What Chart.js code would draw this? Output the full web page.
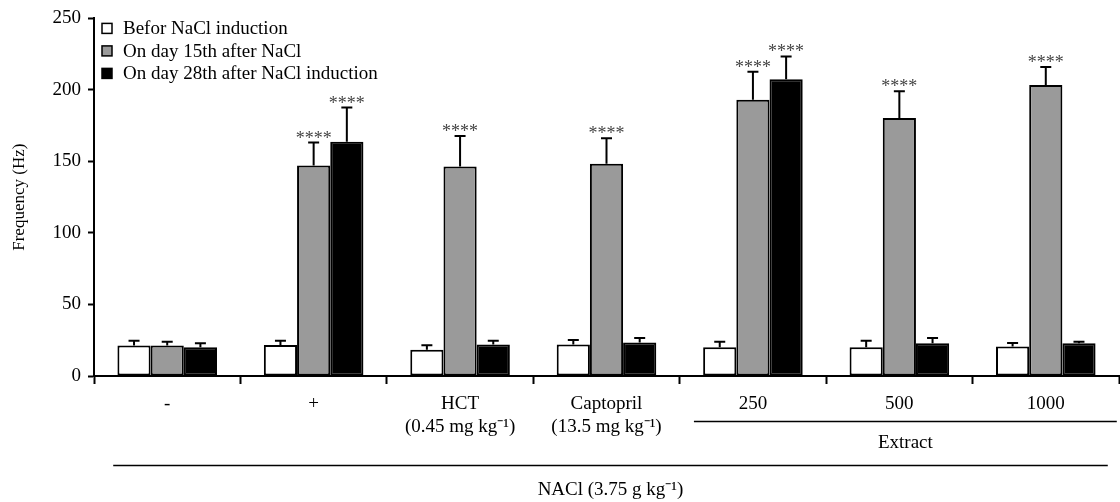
<!DOCTYPE html>
<html>
<head>
<meta charset="utf-8">
<script src="https://cdn.jsdelivr.net/npm/chart.js@4"></script>
<style>
html, body { margin: 0; padding: 0; background: #fff; }
#wrap { width: 1120px; height: 502px; }
</style>
</head>
<body>
<div id="wrap"><canvas id="freq_chart"></canvas></div>
<script>
// data
var categories = ['-', '+', ['HCT', '(0.45 mg kg⁻¹)'], ['Captopril', '(13.5 mg kg⁻¹)'], '250', '500', '1000'];
var series_labels = ['Befor NaCl induction', 'On day 15th after NaCl', 'On day 28th after NaCl induction'];
var before_vals = [21.3, 21.7, 18.3, 22, 20.1, 20.1, 20.6];
var before_err = [3.4, 3, 3.2, 3.2, 3.9, 4.6, 2.5];
var day15_vals = [21.3, 147.2, 146.5, 148.4, 193.2, 180.4, 203.5];
var day15_err = [2.7, 16, 21.3, 17.8, 19.5, 18.6, 12.5];
var day28_vals = [20.1, 163.7, 22, 23.4, 207.4, 22.9, 22.9];
var day28_err = [2.8, 24, 2.7, 3.2, 16, 3.7, 1.1];
var before_sig = ['', '', '', '', '', '', ''];
var day15_sig = ['', '****', '****', '****', '****', '****', '****'];
var day28_sig = ['', '****', '', '', '****', '', ''];
var extract_label = 'Extract';
var nacl_label = 'NACl (3.75 g kg⁻¹)';

var serif = '"Liberation Serif", "Times New Roman", serif';

// error bars + stars
var errorBars = {
    id: 'errorBars',
    afterDatasetsDraw: function(chart) {
        var ctx = chart.ctx;
        var y = chart.scales.y;
        ctx.save();
        chart.data.datasets.forEach(function(ds, di) {
            var meta = chart.getDatasetMeta(di);
            meta.data.forEach(function(bar, i) {
                var top = y.getPixelForValue(ds.data[i] + ds.errors[i]);
                ctx.strokeStyle = '#000';
                ctx.lineWidth = 2;
                ctx.beginPath();
                ctx.moveTo(bar.x, bar.y);
                ctx.lineTo(bar.x, top);
                ctx.moveTo(bar.x - 5.5, top);
                ctx.lineTo(bar.x + 5.5, top);
                ctx.stroke();
                if (ds.sig[i]) {
                    ctx.fillStyle = '#444';
                    ctx.font = '18px ' + serif;
                    ctx.textAlign = 'center';
                    ctx.textBaseline = 'alphabetic';
                    ctx.fillText(ds.sig[i], bar.x, top + 1);
                }
            });
        });
        ctx.restore();
    }
};

// legend box in the top-left corner
var boxLegend = {
    id: 'boxLegend',
    afterDraw: function(chart) {
        var ctx = chart.ctx;
        var a = chart.chartArea;
        ctx.save();
        chart.data.datasets.forEach(function(ds, i) {
            var cy = a.top + 10 + i * 22.5;
            ctx.fillStyle = ds.backgroundColor;
            ctx.fillRect(a.left + 8, cy - 5, 10, 10);
            ctx.strokeStyle = '#000';
            ctx.lineWidth = 1.5;
            ctx.strokeRect(a.left + 8, cy - 5, 10, 10);
            ctx.fillStyle = '#000';
            ctx.font = '19px ' + serif;
            ctx.textAlign = 'left';
            ctx.textBaseline = 'middle';
            ctx.fillText(ds.label, a.left + 29, cy + 1);
        });
        ctx.restore();
    }
};

// group lines under the x axis
var groupLines = {
    id: 'groupLines',
    afterDraw: function(chart) {
        var ctx = chart.ctx;
        var x = chart.scales.x;
        ctx.save();
        ctx.strokeStyle = '#000';
        ctx.lineWidth = 1.5;
        ctx.fillStyle = '#000';
        ctx.font = '19px ' + serif;
        ctx.textAlign = 'center';
        ctx.textBaseline = 'middle';

        var e1 = x.getPixelForValue(4) - 59, e2 = x.getPixelForValue(6) + 71;
        ctx.beginPath();
        ctx.moveTo(e1, 421.5);
        ctx.lineTo(e2, 421.5);
        ctx.stroke();
        ctx.fillText(extract_label, (e1 + e2) / 2, 443);

        var n1 = x.getPixelForValue(0) - 54, n2 = x.getPixelForValue(6) + 62;
        ctx.beginPath();
        ctx.moveTo(n1, 465.5);
        ctx.lineTo(n2, 465.5);
        ctx.stroke();
        ctx.fillText(nacl_label, (n1 + n2) / 2, 490);
        ctx.restore();
    }
};

var context = document.getElementById('freq_chart').getContext('2d');
var freq_chart = new Chart(context, {
    type: 'bar',
    data: {
        labels: categories,
        datasets: [{
            label: series_labels[0],
            data: before_vals,
            errors: before_err,
            sig: before_sig,
            backgroundColor: '#ffffff'
        }, {
            label: series_labels[1],
            data: day15_vals,
            errors: day15_err,
            sig: day15_sig,
            backgroundColor: '#9a9a9a'
        }, {
            label: series_labels[2],
            data: day28_vals,
            errors: day28_err,
            sig: day28_sig,
            backgroundColor: '#000000'
        }]
    },
    options: {
        responsive: true,
        maintainAspectRatio: false,
        animation: false,
        datasets: {
            bar: {
                borderColor: '#000',
                borderWidth: 2,
                borderSkipped: false,
                categoryPercentage: 0.68,
                barPercentage: 1.0
            }
        },
        layout: { padding: { top: 12, right: 1, bottom: 0, left: 0 } },
        plugins: {
            legend: { display: false },
            tooltip: { enabled: false }
        },
        scales: {
            x: {
                afterFit: function(scale) { scale.height = 126; },
                grid: {
                    display: true,
                    drawOnChartArea: false,
                    offset: true,
                    tickLength: 8,
                    tickWidth: 2,
                    tickColor: '#000'
                },
                border: { display: true, color: '#000', width: 2 },
                ticks: {
                    color: '#000',
                    font: { family: serif, size: 19, lineHeight: 1.2 },
                    padding: 9,
                    maxRotation: 0,
                    autoSkip: false
                }
            },
            y: {
                min: 0,
                max: 250,
                afterFit: function(scale) { scale.width = 94; },
                grid: {
                    display: true,
                    drawOnChartArea: false,
                    tickLength: 6,
                    tickWidth: 2,
                    tickColor: '#000'
                },
                border: { display: true, color: '#000', width: 2 },
                ticks: {
                    stepSize: 50,
                    color: '#000',
                    font: { family: serif, size: 19 },
                    padding: 7
                },
                title: {
                    display: true,
                    text: 'Frequency (Hz)',
                    color: '#000',
                    font: { family: serif, size: 17 },
                    padding: { top: 9, bottom: 0 }
                }
            }
        }
    },
    plugins: [errorBars, boxLegend, groupLines]
});
</script>
</body>
</html>
